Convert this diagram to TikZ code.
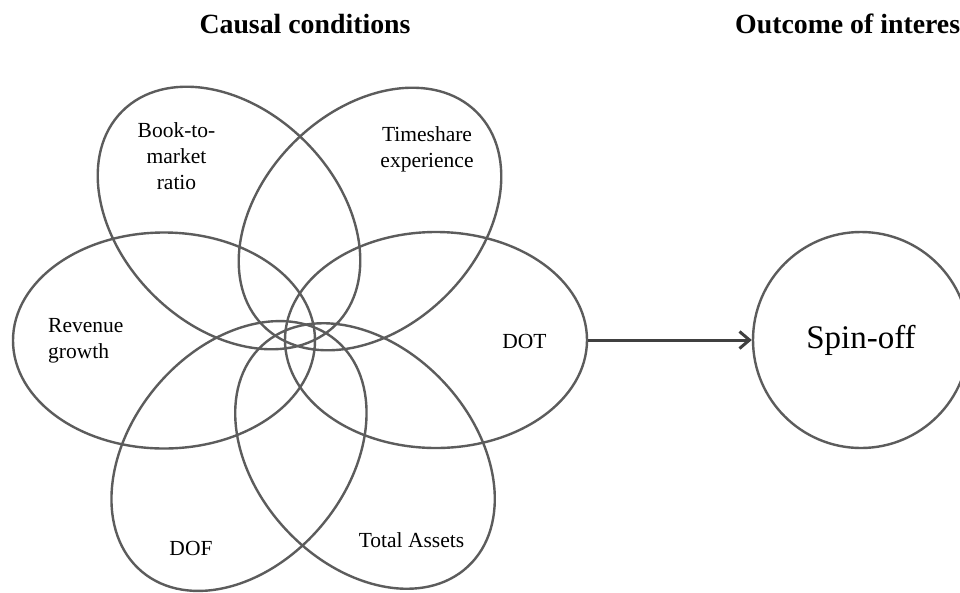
\documentclass[tikz,border=0pt]{standalone}
\usepackage{fontspec}
\setmainfont{Liberation Serif}
\usetikzlibrary{shapes.geometric,arrows.meta}
\definecolor{petalgray}{RGB}{92,92,92}
\definecolor{arrowgray}{RGB}{64,64,64}
\begin{document}
\begin{tikzpicture}[x=1pt,y=-1pt,
  petal/.style={draw=petalgray, line width=2.4pt, ellipse, inner sep=0pt,
                minimum width=302pt, minimum height=216pt},
  lbl/.style={font=\fontsize{21.5}{26}\selectfont, inner sep=0pt, align=center, anchor=base},
  ttl/.style={font=\fontsize{27.8}{32}\selectfont\bfseries, inner sep=0pt, anchor=base},
  arr/.style={draw=arrowgray, line width=3pt, -{Straight Barb[length=10pt,width=17pt]}}]
\fill[white] (0,0) rectangle (960,592);
\useasboundingbox (0,0) rectangle (960,592);
% petals
\node[petal] (rev) at (164,340.5) {};
\node[petal] (dot) at (436,340) {};
\node[petal, rotate=-45] (btm) at (229,218) {};
\node[petal, rotate=45] (tse) at (370,219) {};
\node[petal, rotate=50] (dof) at (239,456) {};
\node[petal, rotate=-47] (ta) at (365,456) {};
% outcome
\node[draw=petalgray, line width=2.4pt, circle, minimum size=216pt, inner sep=0pt,
      font=\fontsize{33}{36}\selectfont] (spin) at (861,340) {Spin-off};
\draw[arr] (dot.east) -- (spin.west);
% labels (anchor base = last line)
\node[lbl] (lbook) at (176.5,189) {Book-to-\\market\\ratio};
\node[lbl] (ltime) at (427,167) {Timeshare\\experience};
\node[lbl, align=left, anchor=base west] (lrev) at (48,358) {Revenue\\growth};
\node[lbl] (ldot) at (524.5,348) {DOT};
\node[lbl] (ldof) at (191,555) {DOF};
\node[lbl] (lta) at (411.5,547) {Total Assets};
% titles
\node[ttl] (tcause) at (305,33) {Causal conditions};
\node[ttl, anchor=base west] (tout) at (735,33) {Outcome of interest};
\end{tikzpicture}
\end{document}
